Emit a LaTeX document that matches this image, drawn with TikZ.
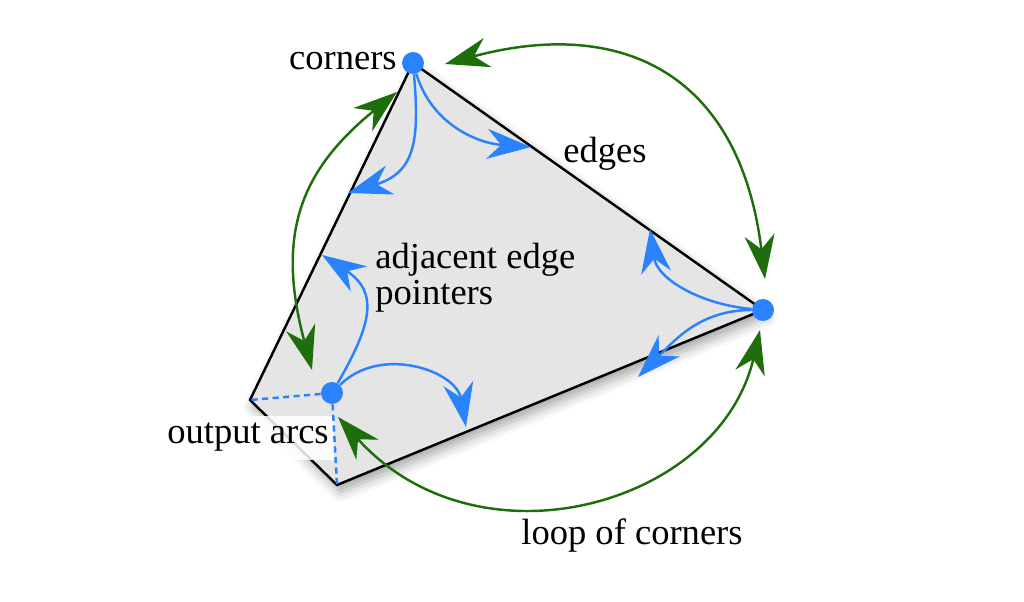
\documentclass[tikz,border=0pt]{standalone}
\usepackage{fontspec}
\setmainfont{Liberation Serif}
\usetikzlibrary{%
  arrows.meta,%
  shadows.blur%
}
\definecolor{ptrblue}{RGB}{42,130,255}
\definecolor{loopgreen}{RGB}{30,110,12}
\definecolor{facegray}{RGB}{229,229,229}
\tikzset{
  cornerdot/.style={circle,fill=ptrblue,inner sep=0pt,minimum size=0.44cm},
  edgeptr/.style={ptrblue,line width=1.4pt,-{Stealth[length=0.88cm,width=0.6cm,inset=0.28cm]}},
  cornerloop/.style={loopgreen,line width=1.4pt,%
    {Stealth[length=0.88cm,width=0.6cm,inset=0.28cm]}-{Stealth[length=0.88cm,width=0.6cm,inset=0.28cm]}},
  outarc/.style={ptrblue,line width=1.4pt,dash pattern=on 3.5pt off 2.5pt},
  lbl/.style={font=\fontsize{20.8}{20.8}\selectfont,inner sep=0pt}
}

\begin{document}
\begin{tikzpicture}
    \useasboundingbox (0,0) rectangle (20.48,12.04);
    \coordinate (a) at (8.26,10.78);
    \coordinate (b) at (15.26,5.84);
    \coordinate (c) at (6.64,4.18);
    \coordinate (P) at (5.00,4.04);
    \coordinate (Q) at (6.74,2.34);
    \draw[line width=1.4pt,fill=facegray,
      blur shadow={shadow xshift=2pt,shadow yshift=-4pt,shadow blur radius=6pt,shadow opacity=35}]
      (a) -- (b) -- (Q) -- (P) -- cycle;
    \node[lbl,anchor=base,fill=white,fill opacity=0.85,text opacity=1,inner xsep=3pt,inner ysep=4.5pt]
      (arcs) at (4.96,3.16) {output arcs};
    \node[cornerdot] (A) at (a) {};
    \node[cornerdot] (B) at (b) {};
    \node[cornerdot] (C) at (c) {};
    \draw[outarc] (C) -- (P);
    \draw[outarc] (C) -- (Q);
    \coordinate (t1) at (6.96,8.18);
    \coordinate (t2) at (10.62,9.1);
    \coordinate (t3) at (13.0,7.46);
    \coordinate (t4) at (12.76,4.5);
    \coordinate (t5) at (6.44,6.94);
    \coordinate (t6) at (9.32,3.5);
    \draw[edgeptr] (A) to[out=-85,in=17,looseness=1.3] (t1);
    \draw[edgeptr] (A) to[out=-73,in=176] (t2);
    \draw[edgeptr] (B) to[out=175,in=-82] (t3);
    \draw[edgeptr] (B) to[out=180,in=45] (t4);
    \draw[edgeptr] (C) to[out=60,in=-33,looseness=1.35] (t5);
    \draw[edgeptr] (C) to[out=45,in=100,looseness=1.1] (t6);
    \coordinate (ab) at (8.9,10.76);
    \coordinate (ba) at (15.3,6.46);
    \coordinate (bc) at (15.2,5.44);
    \coordinate (cb) at (6.76,3.7);
    \coordinate (ca) at (6.24,4.64);
    \coordinate (ac) at (7.94,10.2);
    \draw[cornerloop] (ab) .. controls +(15:3.6) and +(97:4.2) .. (ba);
    \draw[cornerloop] (bc) .. controls +(-103:3.6) and +(-48:4.2) .. (cb);
    \draw[cornerloop] (ca) .. controls +(105:2.8) and +(219:2.5) .. (ac);
    \node[lbl,anchor=base east] (corners) at (7.94,10.64) {corners};
    \node[lbl,anchor=base west] (edges) at (11.26,8.78) {edges};
    \node[lbl,anchor=base west,align=left] (adj) at (7.5,5.94) {adjacent edge\\pointers};
    \node[lbl,anchor=base west] (loopof) at (10.42,1.14) {loop of corners};
\end{tikzpicture}
\end{document}
